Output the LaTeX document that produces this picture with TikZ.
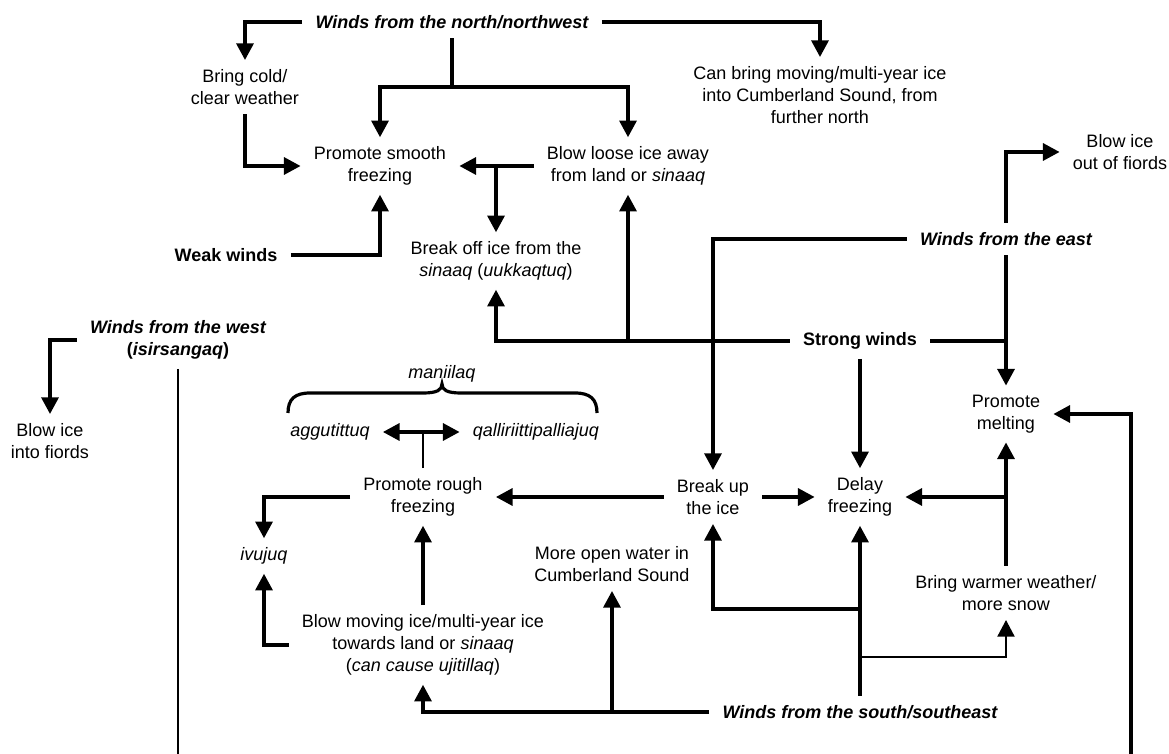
\documentclass[tikz,border=0pt]{standalone}
\usepackage{fontspec}
\setmainfont{Liberation Sans}
\usetikzlibrary{arrows.meta}

\begin{document}
\begin{tikzpicture}[
  x=0.5pt, y=-0.5pt,
  font=\fontsize{9}{11}\selectfont,
  box/.style={align=center, inner xsep=6.5pt, inner ysep=4.5pt},
  wind/.style={box, font=\fontsize{9}{11}\selectfont\bfseries\itshape},
  force/.style={box, font=\fontsize{9}{11}\selectfont\bfseries},
  term/.style={box, font=\fontsize{9}{11}\selectfont\itshape},
  link/.style={-{Triangle[length=8.3pt,width=8.5pt]}, line width=1.6pt},
  both/.style={{Triangle[length=8.3pt,width=8.5pt]}-{Triangle[length=8.3pt,width=8.5pt]}, line width=1.6pt},
  tie/.style={line width=1.6pt},
  thin tie/.style={line width=1pt},
]
\useasboundingbox (0,0) rectangle (1169,754);

% winds from the north/northwest
\node[wind] (nnw) at (452,22) {Winds from the north/northwest};
\node[box] (cold) at (245,87) {Bring cold/\\clear weather};
\node[box] (canbring) at (820,95) {Can bring moving/multi-year ice\\into Cumberland Sound, from\\further north};
\node[box] (smooth) at (380,166) {Promote smooth\\freezing};
\node[box] (loose) at (628,166) {Blow loose ice away\\from land or \textit{sinaaq}};
\node[box] (breakoff) at (496,261) {Break off ice from the\\\textit{sinaaq} (\textit{uukkaqtuq})};
\node[force] (weak) at (226,255) {Weak winds};

% winds from the east, strong winds
\node[wind] (east) at (1006,239) {Winds from the east};
\node[box] (outfiords) at (1120,152) {Blow ice\\out of fiords};
\node[force] (strong) at (860,341) {Strong winds};
\node[box] (melting) at (1006,414) {Promote\\melting};
\node[box] (breakup) at (713,497) {Break up\\the ice};
\node[box] (delay) at (860,497) {Delay\\freezing};
\node[box] (warmer) at (1006,593) {Bring warmer weather/\\more snow};
\node[box] (openwater) at (612,564) {More open water in\\Cumberland Sound};

% winds from the west, rough ice
\node[wind] (west) at (178,340) {Winds from the west\\{\upshape(}\textit{isirsangaq}{\upshape)}};
\node[box] (intofiords) at (50,441) {Blow ice\\into fiords};
\node[term, inner ysep=1pt] (maniilaq) at (442,374) {maniilaq};
\node[term] (aggu) at (330,432) {aggutittuq};
\node[term] (qalli) at (536,432) {qalliriittipalliajuq};
\node[box] (rough) at (423,497) {Promote rough\\freezing};
\node[term] (ivujuq) at (264,556) {ivujuq};
\node[box] (blowmoving) at (423,645) {Blow moving ice/multi-year ice\\towards land or \textit{sinaaq}\\(\textit{can cause ujitillaq})};
\node[wind] (sse) at (860,712) {Winds from the south/southeast};

\coordinate (nsplit) at (452,87);
\coordinate (lsplit) at (496,166);
\coordinate (ssplit) at (628,341);
\coordinate (wsplit) at (1006,497);
\coordinate (sbreak) at (860,609);
\coordinate (swarm) at (860,657);
\coordinate (sopen) at (612,712);
\coordinate (wfoot) at (178,754);
\coordinate (rfoot) at (1131,754);

% north/northwest links
\draw[link] (nnw.west) -| (cold.north);
\draw[link] (nnw.east) -| (canbring.north);
\draw[tie] (nnw.south) -- (nsplit);
\draw[link] (nsplit) -| (smooth.north);
\draw[link] (nsplit) -| (loose.north);
\draw[link] (cold.south) |- (smooth.west);
\draw[link] (loose.west) -- (smooth.east);
\draw[link] (lsplit) -- (breakoff.north);
\draw[link] (weak.east) -| (smooth.south);

% strong winds and east
\draw[link] (strong.west) -| (breakoff.south);
\draw[link] (ssplit) -- (loose.south);
\draw[tie] (strong.east) -- (strong.east -| east.south);
\draw[link] (strong.south) -- (delay.north);
\draw[link] (east.north) |- (outfiords.west);
\draw[link] (east.south) -- (melting.north);
\draw[link] (east.west) -| (breakup.north);
\draw[link] (breakup.west) -- (rough.east);
\draw[link] (breakup.east) -- (delay.west);
\draw[link] (warmer.north) -- (melting.south);
\draw[link] (wsplit) -- (delay.east);
\draw[link] (rfoot) |- (melting.east);

% south/southeast links
\draw[link] (sse.north) -- (delay.south);
\draw[link] (sbreak) -| (breakup.south);
\draw[thin tie, -{Triangle[length=8.3pt,width=8.5pt]}] (swarm) -| (warmer.south);
\draw[link] (sse.west) -| (blowmoving.south);
\draw[link] (sopen) -- (openwater.south);

% rough freezing
\draw[link] (blowmoving.north) -- (rough.south);
\draw[link] (blowmoving.west) -| (ivujuq.south);
\draw[link] (rough.west) -| (ivujuq.north);
\draw[thin tie] (rough.north) -- (rough.north |- aggu.east);
\draw[both] (aggu.east) -- (qalli.west);
% brace under maniilaq
\draw[tie] (288,413) .. controls (288,399) and (295,393) .. (310,393) -- (423,393)
  .. controls (437,393) and (442,390) .. (442,384)
  .. controls (442,390) and (447,393) .. (461,393) -- (575,393)
  .. controls (590,393) and (597,399) .. (597,413);

% west
\draw[link] (west.west) -| (intofiords.north);
\draw[thin tie] (west.south) -- (wfoot);
\end{tikzpicture}
\end{document}
